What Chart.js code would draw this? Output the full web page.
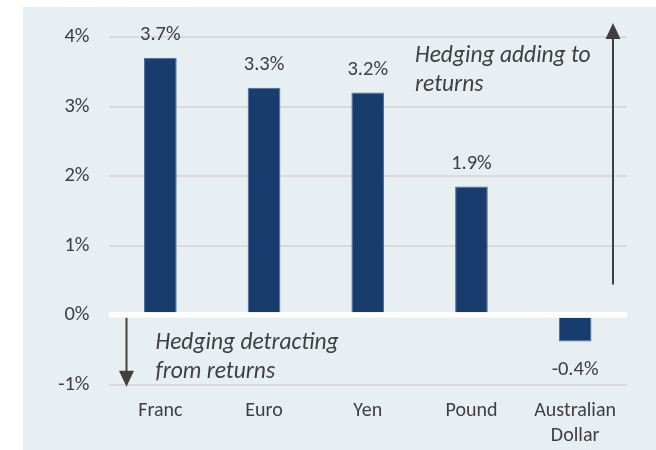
<!DOCTYPE html>
<html><head><meta charset="utf-8">
<script src="https://cdn.jsdelivr.net/npm/chart.js@4.4.1/dist/chart.umd.min.js"></script>
<style>html,body{margin:0;padding:0;background:#fff;}#wrap{width:656px;height:450px;}</style>
</head><body><div id="wrap"><canvas id="c" width="656" height="450"></canvas></div>
<script>
const categories = ['Franc', 'Euro', 'Yen', 'Pound', ['Australian', 'Dollar']];
const hedgeImpact = [3.70, 3.27, 3.20, 1.85, -0.38];
const valueLabels = ['3.7%', '3.3%', '3.2%', '1.9%', '-0.4%'];
const yTicks = [-1, 0, 1, 2, 3, 4];
const upNote = ['Hedging adding to', 'returns'];
const downNote = ['Hedging detracting', 'from returns'];

const FONT = 'Carlito, Lato, sans-serif';
const TEXT = '#404040';
const PANEL = '#e7eff3';
const BAR = '#183c6e';

const panelPlugin = {
  id: 'panel',
  beforeDraw(chart) {
    const ctx = chart.ctx;
    ctx.save();
    ctx.fillStyle = '#ffffff';
    ctx.fillRect(0, 0, chart.width, chart.height);
    ctx.fillStyle = PANEL;
    ctx.fillRect(23, 7, chart.width - 23, chart.height - 7);
    ctx.restore();
  }
};

const labelPlugin = {
  id: 'valueLabels',
  afterDatasetsDraw(chart) {
    const ctx = chart.ctx;
    const meta = chart.getDatasetMeta(0);
    ctx.save();
    ctx.font = '20.5px ' + FONT;
    ctx.fillStyle = TEXT;
    ctx.textAlign = 'center';
    ctx.textBaseline = 'middle';
    meta.data.forEach((bar, i) => {
      const v = hedgeImpact[i];
      const y = v >= 0 ? bar.y - 23 : bar.y + 28;
      ctx.fillText(valueLabels[i], bar.x, y);
    });
    ctx.restore();
  }
};

function arrow(ctx, x, y0, y1) {
  const dir = y1 < y0 ? -1 : 1;
  const headLen = 16, headHalf = 7.5;
  ctx.beginPath();
  ctx.moveTo(x, y0);
  ctx.lineTo(x, y1 - dir * headLen + dir * 1);
  ctx.stroke();
  ctx.beginPath();
  ctx.moveTo(x, y1);
  ctx.lineTo(x - headHalf, y1 - dir * headLen);
  ctx.lineTo(x + headHalf, y1 - dir * headLen);
  ctx.closePath();
  ctx.fill();
}

const notePlugin = {
  id: 'notes',
  afterDraw(chart) {
    const ctx = chart.ctx;
    const a = chart.chartArea;
    const ys = chart.scales.y;
    ctx.save();
    ctx.strokeStyle = '#404040';
    ctx.fillStyle = '#404040';
    ctx.lineWidth = 2;
    arrow(ctx, a.right - 14, ys.getPixelForValue(0.44), ys.getPixelForValue(4.2));
    arrow(ctx, a.left + 18, ys.getPixelForValue(-0.04), ys.getPixelForValue(-1.03));
    ctx.font = 'italic 23.5px ' + FONT;
    ctx.fillStyle = TEXT;
    ctx.textAlign = 'left';
    ctx.textBaseline = 'alphabetic';
    const upY = ys.getPixelForValue(4) + 25;
    upNote.forEach((t, i) => ctx.fillText(t, a.right - 212, upY + i * 29));
    const dnY = ys.getPixelForValue(0) + 34;
    downNote.forEach((t, i) => ctx.fillText(t, a.left + 47, dnY + i * 28.5));
    ctx.restore();
  }
};

new Chart(document.getElementById('c'), {
  type: 'bar',
  data: {
    labels: categories,
    datasets: [{
      data: hedgeImpact,
      backgroundColor: BAR,
      borderColor: '#4b6d99',
      borderWidth: 1,
      categoryPercentage: 1,
      barPercentage: 0.315
    }]
  },
  options: {
    responsive: false,
    animation: false,
    devicePixelRatio: 1,
    layout: { padding: { left: 23, right: 29, top: 37, bottom: 0 } },
    plugins: { legend: { display: false }, tooltip: { enabled: false }, title: { display: false } },
    scales: {
      x: {
        grid: { display: false, drawTicks: false },
        border: { display: false },
        ticks: { color: TEXT, font: { family: FONT, size: 20, lineHeight: 1.25 }, padding: 14, maxRotation: 0, autoSkip: false },
        afterFit(s) { s.height = 65.4; }
      },
      y: {
        min: -1, max: 4,
        afterBuildTicks(s) { s.ticks = yTicks.map(v => ({ value: v })); },
        grid: {
          drawTicks: false,
          color: c => (c.tick && c.tick.value === 0) ? '#ffffff' : '#d8dadb',
          lineWidth: c => (c.tick && c.tick.value === 0) ? 5.5 : 2
        },
        border: { display: false },
        ticks: { color: TEXT, font: { family: FONT, size: 20.5 }, padding: 19, callback: v => v + '%' },
        afterFit(s) { s.width = 85.5; }
      }
    }
  },
  plugins: [panelPlugin, labelPlugin, notePlugin]
});
</script>
</body></html>
